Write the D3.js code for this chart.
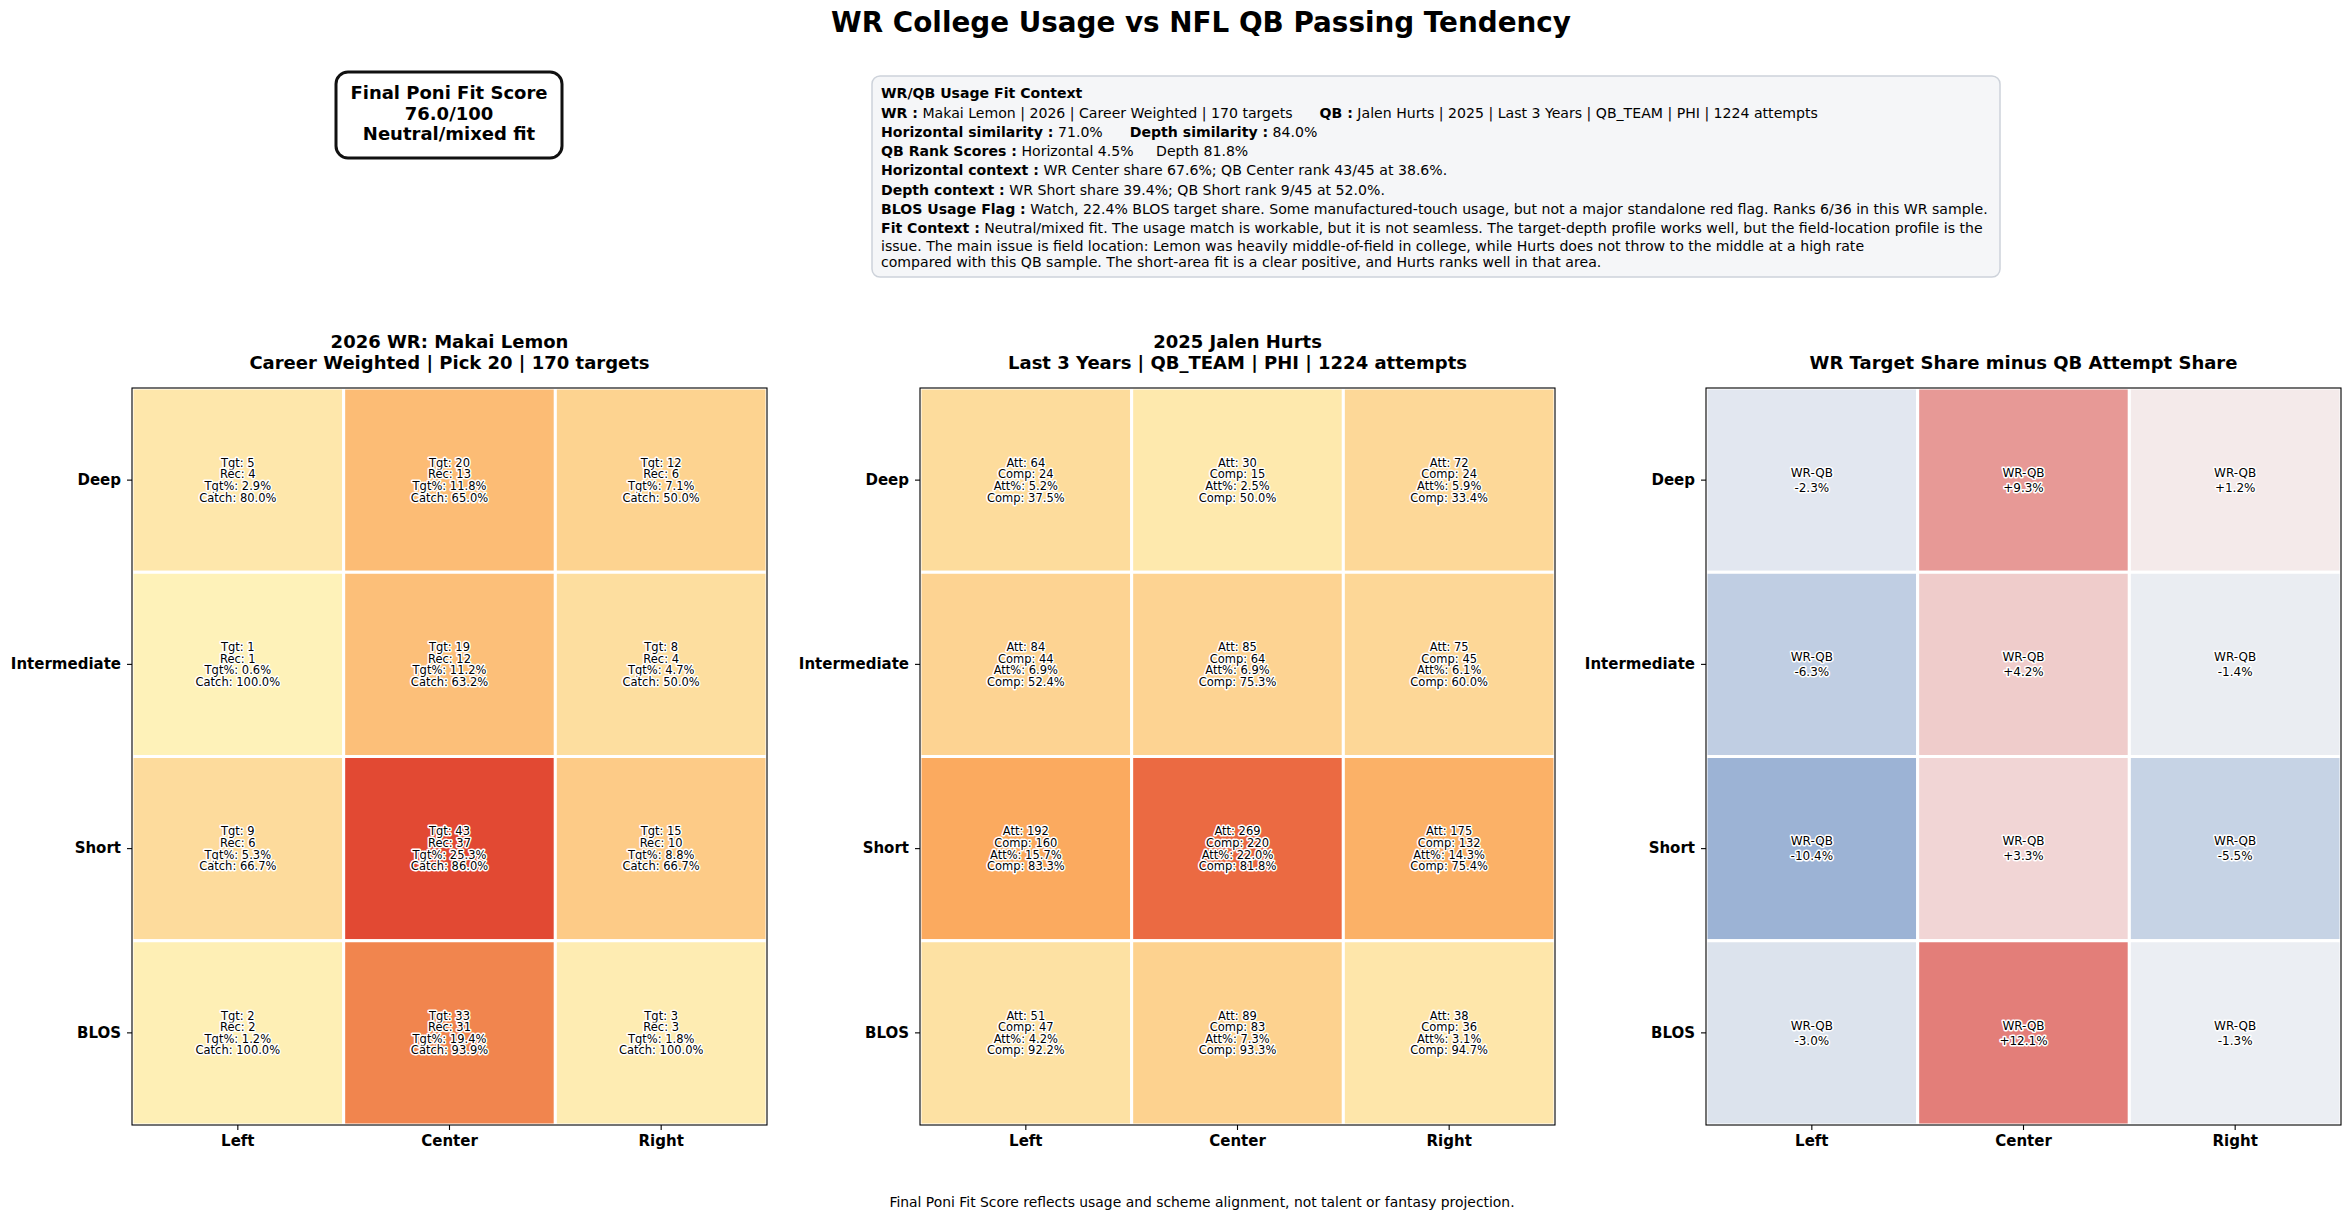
<!DOCTYPE html>
<html lang="en">
<head>
    <meta charset="UTF-8">
    <title>WR College Usage vs NFL QB Passing Tendency</title>
    <script src="https://d3js.org/d3.v7.min.js"></script>
    <style>
        body { margin: 0; background: #fff; }
        svg { font-family: "DejaVu Sans", sans-serif; display: block; }
        .halo { paint-order: stroke; stroke: #fff; stroke-width: 3px; stroke-linejoin: round; }
    </style>
</head>
<body>
    <svg width="2350" height="1220"></svg>
    <script>
        // zones
        const cols = ["Left", "Center", "Right"];
        const rows = ["Deep", "Intermediate", "Short", "BLOS"];

        // WR college usage (rows x cols)
        const wrTargets = [[5, 20, 12], [1, 19, 8], [9, 43, 15], [2, 33, 3]];
        const wrRec = [[4, 13, 6], [1, 12, 4], [6, 37, 10], [2, 31, 3]];
        const wrTgtPct = [[2.9, 11.8, 7.1], [0.6, 11.2, 4.7], [5.3, 25.3, 8.8], [1.2, 19.4, 1.8]];
        const wrCatchPct = [[80.0, 65.0, 50.0], [100.0, 63.2, 50.0], [66.7, 86.0, 66.7], [100.0, 93.9, 100.0]];

        // QB passing tendency
        const qbAtt = [[64, 30, 72], [84, 85, 75], [192, 269, 175], [51, 89, 38]];
        const qbComp = [[24, 15, 24], [44, 64, 45], [160, 220, 132], [47, 83, 36]];
        const qbAttPct = [[5.2, 2.5, 5.9], [6.9, 6.9, 6.1], [15.7, 22.0, 14.3], [4.2, 7.3, 3.1]];
        const qbCompPct = [[37.5, 50.0, 33.4], [52.4, 75.3, 60.0], [83.3, 81.8, 75.4], [92.2, 93.3, 94.7]];

        // WR share minus QB share
        const shareDiff = [[-2.3, 9.3, 1.2], [-6.3, 4.2, -1.4], [-10.4, 3.3, -5.5], [-3.0, 12.1, -1.3]];

        const chartTitle = "WR College Usage vs NFL QB Passing Tendency";
        const panelTitles = [
            ["2026 WR: Makai Lemon", "Career Weighted | Pick 20 | 170 targets"],
            ["2025 Jalen Hurts", "Last 3 Years | QB_TEAM | PHI | 1224 attempts"],
            ["WR Target Share minus QB Attempt Share"]
        ];
        const scoreLines = ["Final Poni Fit Score", "76.0/100", "Neutral/mixed fit"];
        const contextTitle = "WR/QB Usage Fit Context";
        const contextLines = [
            [["WR :", " Makai Lemon | 2026 | Career Weighted | 170 targets"], ["QB :", " Jalen Hurts | 2025 | Last 3 Years | QB_TEAM | PHI | 1224 attempts"]],
            [["Horizontal similarity :", " 71.0%"], ["Depth similarity :", " 84.0%"]],
            [["QB Rank Scores :", " Horizontal 4.5%\u00a0\u00a0\u00a0\u00a0 Depth 81.8%"]],
            [["Horizontal context :", " WR Center share 67.6%; QB Center rank 43/45 at 38.6%."]],
            [["Depth context :", " WR Short share 39.4%; QB Short rank 9/45 at 52.0%."]],
            [["BLOS Usage Flag :", " Watch, 22.4% BLOS target share. Some manufactured-touch usage, but not a major standalone red flag. Ranks 6/36 in this WR sample."]],
            [["Fit Context :", " Neutral/mixed fit. The usage match is workable, but it is not seamless. The target-depth profile works well, but the field-location profile is the"]]
        ];
        const fitWrap = [
            "issue. The main issue is field location: Lemon was heavily middle-of-field in college, while Hurts does not throw to the middle at a high rate",
            "compared with this QB sample. The short-area fit is a clear positive, and Hurts ranks well in that area."
        ];
        const footer = "Final Poni Fit Score reflects usage and scheme alignment, not talent or fantasy projection.";

        const svg = d3.select("svg");

        // title
        svg.append("text")
            .attr("x", 1201).attr("y", 32)
            .attr("text-anchor", "middle")
            .style("font-size", "27.8px").style("font-weight", "bold")
            .text(chartTitle);

        // score box
        svg.append("rect")
            .attr("x", 336).attr("y", 72).attr("width", 226).attr("height", 86)
            .attr("rx", 12)
            .attr("fill", "#fff").attr("stroke", "#111").attr("stroke-width", 3);
        svg.selectAll(".score").data(scoreLines).enter().append("text")
            .attr("x", 449).attr("y", (d, i) => 99 + i * 20.5)
            .attr("text-anchor", "middle")
            .style("font-size", "18px").style("font-weight", "bold")
            .text(d => d);

        // context box
        svg.append("rect")
            .attr("x", 872).attr("y", 76).attr("width", 1128).attr("height", 201)
            .attr("rx", 8)
            .attr("fill", "#f5f6f8").attr("stroke", "#cdd2da").attr("stroke-width", 1.5);
        const ctxX = 881, ctxFont = "14.1px";
        svg.append("text")
            .attr("x", ctxX).attr("y", 98)
            .style("font-size", ctxFont).style("font-weight", "bold")
            .text(contextTitle);
        contextLines.forEach((parts, i) => {
            const t = svg.append("text")
                .attr("x", ctxX).attr("y", 117.5 + i * 19.3)
                .attr("xml:space", "preserve")
                .style("font-size", ctxFont);
            parts.forEach((p, j) => {
                t.append("tspan").attr("dx", j > 0 ? 27 : 0)
                    .style("font-weight", "bold").text(p[0]);
                t.append("tspan").text(p[1]);
            });
        });
        fitWrap.forEach((line, i) => {
            svg.append("text")
                .attr("x", ctxX).attr("y", 251 + i * 16)
                .style("font-size", ctxFont)
                .text(line);
        });

        // panels
        const panelX = [132, 920, 1706];
        const panelW = 635;
        const plotTop = 388, plotBottom = 1125;

        const heat = d3.scaleLinear()
            .domain([0, 7, 15.7, 25.3])
            .range(["#fef5bd", "#fdd391", "#fbaa5f", "#e24933"])
            .clamp(true);
        const diverge = d3.scaleLinear()
            .domain([-20, 0, 20])
            .range(["#4976b6", "#f6f6f7", "#d62f26"]);

        const locale = d3.formatLocale({ decimal: ".", thousands: ",", grouping: [3], currency: ["", ""], minus: "-" });
        const fmt1 = locale.format(".1f");
        const signed = v => (v > 0 ? "+" : "") + fmt1(v) + "%";

        const panels = [
            {
                color: (r, c) => heat(wrTgtPct[r][c]), size: 11.5, lh: 11.6,
                lines: (r, c) => ["Tgt: " + wrTargets[r][c], "Rec: " + wrRec[r][c],
                    "Tgt%: " + fmt1(wrTgtPct[r][c]) + "%", "Catch: " + fmt1(wrCatchPct[r][c]) + "%"]
            },
            {
                color: (r, c) => heat(qbAttPct[r][c]), size: 11.5, lh: 11.6,
                lines: (r, c) => ["Att: " + qbAtt[r][c], "Comp: " + qbComp[r][c],
                    "Att%: " + fmt1(qbAttPct[r][c]) + "%", "Comp: " + fmt1(qbCompPct[r][c]) + "%"]
            },
            {
                color: (r, c) => diverge(shareDiff[r][c]), size: 12, lh: 15,
                lines: (r, c) => ["WR-QB", signed(shareDiff[r][c])]
            }
        ];

        panels.forEach((p, k) => {
            const x = d3.scaleBand().domain(cols).range([panelX[k], panelX[k] + panelW]);
            const y = d3.scaleBand().domain(rows).range([plotTop, plotBottom]);
            const g = svg.append("g");

            const cells = [];
            rows.forEach((r, ri) => cols.forEach((c, ci) => cells.push({ r, c, ri, ci })));

            g.selectAll("rect.cell").data(cells).enter().append("rect")
                .attr("class", "cell")
                .attr("x", d => x(d.c)).attr("y", d => y(d.r))
                .attr("width", x.bandwidth()).attr("height", y.bandwidth())
                .attr("fill", d => p.color(d.ri, d.ci))
                .attr("stroke", "#fff").attr("stroke-width", 3);

            cells.forEach(d => {
                const lines = p.lines(d.ri, d.ci);
                const cx = x(d.c) + x.bandwidth() / 2;
                const cy = y(d.r) + y.bandwidth() / 2;
                const y0 = cy - (lines.length - 1) * p.lh / 2 + p.size * 0.36;
                g.append("text")
                    .attr("class", "halo")
                    .attr("text-anchor", "middle")
                    .style("font-size", p.size + "px")
                    .selectAll("tspan").data(lines).enter().append("tspan")
                    .attr("x", cx).attr("y", (t, i) => y0 + i * p.lh)
                    .text(t => t);
            });

            // spine
            g.append("rect")
                .attr("x", panelX[k]).attr("y", plotTop)
                .attr("width", panelW).attr("height", plotBottom - plotTop)
                .attr("fill", "none").attr("stroke", "#000").attr("stroke-width", 1.1);

            // axes
            const ax = g.append("g").attr("transform", `translate(0,${plotBottom})`)
                .call(d3.axisBottom(x).tickSize(5).tickPadding(5));
            const ay = g.append("g").attr("transform", `translate(${panelX[k]},0)`)
                .call(d3.axisLeft(y).tickSize(5).tickPadding(6));
            [ax, ay].forEach(a => {
                a.select(".domain").remove();
                a.selectAll("text").style("font-size", "15px").style("font-weight", "bold")
                    .style("font-family", "DejaVu Sans").attr("fill", "#000");
                a.selectAll("line").attr("stroke", "#000").attr("stroke-width", 1.1);
            });

            // panel title
            const tl = panelTitles[k];
            tl.forEach((s, i) => {
                g.append("text")
                    .attr("x", panelX[k] + panelW / 2)
                    .attr("y", 369 - (tl.length - 1 - i) * 21)
                    .attr("text-anchor", "middle")
                    .style("font-size", "18px").style("font-weight", "bold")
                    .text(s);
            });
        });

        // footer
        svg.append("text")
            .attr("x", 1202).attr("y", 1207)
            .attr("text-anchor", "middle")
            .style("font-size", "13.9px")
            .text(footer);
    </script>
</body>
</html>
